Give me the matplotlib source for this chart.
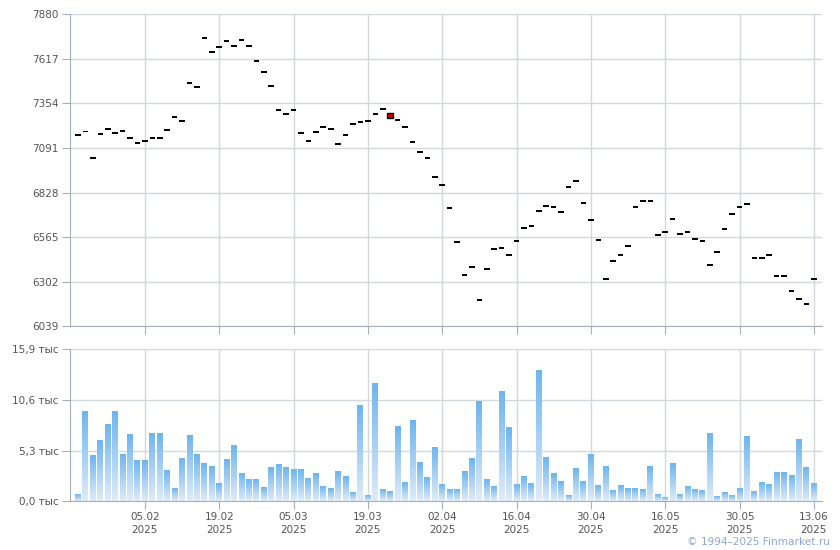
import numpy as np
import matplotlib.pyplot as plt
from matplotlib.colors import to_rgb

# close prices per trading day (index 0..99)
closes = [7166, 7188, 7031, 7172, 7202, 7178, 7190, 7149, 7119, 7131,
          7149, 7149, 7196, 7273, 7249, 7475, 7450, 7748, 7656, 7685,
          7721, 7693, 7727, 7693, 7603, 7538, 7455, 7316, 7290, 7316,
          7178, 7131, 7184, 7214, 7202, 7113, 7166, 7233, 7245, 7249,
          7292, 7320, 7267, 7255, 7214, 7127, 7066, 7031, 6919, 6872,
          6736, 6536, 6341, 6388, 6194, 6376, 6494, 6500, 6459, 6541,
          6618, 6630, 6718, 6748, 6742, 6712, 6860, 6895, 6766, 6665,
          6547, 6317, 6424, 6459, 6512, 6742, 6777, 6777, 6577, 6595,
          6671, 6583, 6595, 6553, 6541, 6400, 6477, 6612, 6701, 6742,
          6760, 6441, 6441, 6459, 6335, 6335, 6247, 6200, 6170, 6317]
opens = list(closes)
opens[17] = 7740
opens[42] = 7296

# volume, thousands
volumes = [0.66, 9.34, 4.74, 6.31, 7.98, 9.34, 4.84, 6.95, 4.22, 4.22,
           7.04, 7.04, 3.17, 1.29, 4.43, 6.83, 4.84, 3.90, 3.59, 1.81,
           4.32, 5.78, 2.86, 2.23, 2.23, 1.39, 3.48, 3.80, 3.48, 3.27,
           3.3, 2.4, 2.9, 1.5, 1.3, 3.1, 2.6, 0.9, 10.0, 0.55,
           12.3, 1.2, 0.97, 7.8, 1.9, 8.4, 4.0, 2.5, 5.6, 1.7,
           1.2, 1.2, 3.1, 4.4, 10.4, 2.2, 1.5, 11.5, 7.7, 1.7,
           2.6, 1.8, 13.7, 4.53, 2.86, 2.02, 0.55, 3.38, 2.02, 4.84,
           1.60, 3.59, 1.08, 1.60, 1.29, 1.29, 1.18, 3.59, 0.66, 0.34,
           3.90, 0.66, 1.50, 1.18, 1.08, 7.04, 0.45, 0.87, 0.55, 1.29,
           6.73, 0.97, 1.92, 1.71, 2.96, 2.96, 2.65, 6.41, 3.48, 1.81]

tick_idx = [9, 19, 29, 39, 49, 59, 69, 79, 89, 99]
tick_lbl = ['05.02\n2025', '19.02\n2025', '05.03\n2025', '19.03\n2025', '02.04\n2025',
            '16.04\n2025', '30.04\n2025', '16.05\n2025', '30.05\n2025', '13.06\n2025']
price_ticks = [6039, 6302, 6565, 6828, 7091, 7354, 7617, 7880]
vol_ticks = [0.0, 5.3, 10.6, 15.9]

grid_c = '#d3d8dd'
spine_c = '#a9afb7'
text_c = '#555555'

fig = plt.figure(figsize=(8.4, 5.5), dpi=100)
ax1 = fig.add_axes([0.0833, 0.4064, 0.8953, 0.5681])
ax2 = fig.add_axes([0.0833, 0.0885, 0.8953, 0.2764])

x = np.arange(len(closes))
xlim = (-1.08, 100.1)

for ax in (ax1, ax2):
    ax.set_xlim(*xlim)
    ax.set_xticks(tick_idx)
    ax.grid(True, color=grid_c, linewidth=1)
    ax.set_axisbelow(True)
    for s in ('top', 'right'):
        ax.spines[s].set_visible(False)
    for s in ('left', 'bottom'):
        ax.spines[s].set_color(spine_c)
    ax.tick_params(colors=spine_c, labelcolor=text_c, labelsize=7.5, length=6, pad=2)

# candles
o = np.array(opens)
c = np.array(closes)
lo = np.minimum(o, c)
h = np.maximum(np.abs(c - o), 10)
cols = ['#dd0000' if cc < oo else 'black' for oo, cc in zip(opens, closes)]
ax1.bar(x, h, bottom=lo - np.where(np.abs(c - o) < 10, 5, 0), width=0.75,
        color=cols, edgecolor='black', linewidth=[1 if cl != 'black' else 0 for cl in cols])
ax1.set_ylim(6039, 7880)
ax1.set_yticks(price_ticks)
ax1.set_xticklabels([])

# volume with gradient bars
top_c = np.array(to_rgb('#6db5ee'))
bot_c = np.array(to_rgb('#dfecf9'))
grad = np.linspace(0, 1, 128)[:, None, None] * (top_c - bot_c) + bot_c
for xi, v in zip(x, volumes):
    ax2.imshow(grad, extent=[xi - 0.4, xi + 0.4, 0, v], origin='lower',
               aspect='auto', interpolation='bilinear', zorder=2)
ax2.set_xlim(*xlim)
ax2.set_ylim(0, 15.9)
ax2.set_yticks(vol_ticks)
ax2.set_yticklabels([('%.1f' % t).replace('.', ',') + ' тыс' for t in vol_ticks])
ax2.set_xticklabels(tick_lbl, linespacing=1.3)

fig.text(0.988, 0.005, '© 1994–2025 Finmarket.ru', ha='right', va='bottom',
         color='#8ea6d8', fontsize=7.6)

fig.savefig('out.png', dpi=100)
